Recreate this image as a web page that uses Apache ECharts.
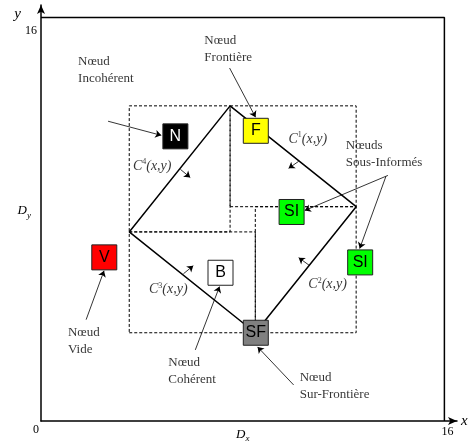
<!DOCTYPE html>
<html><head><meta charset="utf-8">
<script src="https://cdn.jsdelivr.net/npm/echarts@6/dist/echarts.min.js"></script>
<style>html,body{margin:0;padding:0;background:#fff}#c{width:472px;height:444px}</style>
</head><body><div id="c"></div>
<script>
// ---- data ----
const axisMax = 16.5;
const frame = [[0,16],[16,16],[16,0]];
const diamond = [[7.5,12.5],[12.5,8.5],[8.5,3.5],[3.5,7.5],[7.5,12.5]];
// bounding boxes of C4, C1, C2, C3 : [x0,y0,x1,y1]
const boxes = [[3.5,7.5,7.5,12.5],[7.5,8.5,12.5,12.5],[8.5,3.5,12.5,8.5],[3.5,3.5,8.5,7.5]];
const nodeNames = ['N','F','SI','SI','V','B','SF'];
const nodeX = [5.33, 8.52, 9.94, 12.66, 2.51, 7.12, 8.52];
const nodeY = [11.29, 11.51, 8.29, 6.29, 6.49, 5.88, 3.5];
const nodeFill = ['#000000','#ffff00','#00ff00','#00ff00','#ff0000','#ffffff','#808080'];
const nodeText = ['#ffffff','#000000','#000000','#000000','#000000','#000000','#000000'];
const noteTexts = ['Nœud\nIncohérent','Nœud\nFrontière','Nœuds\nSous-Informés','Nœud\nVide','Nœud\nCohérent','Nœud\nSur-Frontière'];
const noteX = [1.47, 6.48, 12.09, 1.07, 5.05, 10.26];
const noteY = [14.59, 15.43, 11.25, 3.86, 2.66, 2.07];
const curveIdx = ['4','1','2','3'];
const curveX = [4.41, 10.58, 11.37, 5.05];
const curveY = [10.10, 11.17, 5.41, 5.21];
const arrows = [
  [[2.66,11.89],[4.77,11.33]],
  [[7.48,14.0],[8.51,12.05]],
  [[13.76,9.74],[10.46,8.35]],
  [[13.68,9.70],[12.64,6.84]],
  [[1.79,4.02],[2.50,5.96]],
  [[6.12,2.82],[7.08,5.33]],
  [[10.02,1.43],[8.59,2.94]],
  [[5.53,9.98],[5.92,9.66]],
  [[10.22,10.30],[9.82,10.02]],
  [[10.66,6.16],[10.22,6.48]],
  [[5.65,5.84],[6.04,6.16]]
];
const xTickLabels = {0:'{z|0}', 8:'{i|D}{sub|x}', 16:'{n|16}'};
const yTickLabels = {0:'', 8:'{d|D}{dsub|y}{p|}', 16:'{t|16}'};

// ---- chart ----
const serif = 'Liberation Serif';
const chart = echarts.init(document.getElementById('c'));
const series = [];
series.push({type:'line', data: frame, symbol:'none', lineStyle:{color:'#000', width:1.5}, silent:true, z:2});
boxes.forEach(b => {
  series.push({type:'line', symbol:'none', silent:true, z:2,
    data:[[b[0],b[1]],[b[2],b[1]],[b[2],b[3]],[b[0],b[3]],[b[0],b[1]]],
    lineStyle:{color:'#000', width:1, type:[3,2]}});
});
series.push({type:'line', data: diamond, symbol:'none', lineStyle:{color:'#000', width:1.5}, silent:true, z:3});
series.push({type:'lines', coordinateSystem:'cartesian2d', symbol:['none','arrow'], symbolSize:6, z:4,
  lineStyle:{color:'#000', width:0.8, opacity:1}, data: arrows.map(a => ({coords:a}))});
series.push({type:'scatter', symbol:'rect', symbolSize:25, z:5,
  data: nodeNames.map((n,i) => ({value:[nodeX[i],nodeY[i]], name:n,
    itemStyle:{color:nodeFill[i], borderColor:'#222', borderWidth:1, opacity:1},
    label:{show:true, position:'inside', formatter:n, color:nodeText[i], fontFamily:'Liberation Sans', fontSize:16}}))});
series.push({type:'scatter', symbolSize:0, z:6,
  data: noteTexts.map((t,i) => ({value:[noteX[i],noteY[i]],
    label:{show:true, position:'inside', align:'left', verticalAlign:'top', formatter:t,
      fontFamily:serif, fontSize:13, lineHeight:17, color:'#000'}}))});
series.push({type:'scatter', symbolSize:0, z:6,
  data: curveIdx.map((c,i) => ({value:[curveX[i],curveY[i]],
    label:{show:true, position:'inside', formatter:'{c|C}{s|'+c+'}{c|(x,y)}',
      rich:{c:{fontFamily:serif, fontStyle:'italic', fontSize:14, color:'#000'},
            s:{fontFamily:serif, fontSize:8, color:'#000', padding:[0,0,8,0]}}}}))});

chart.setOption({
  animation:false,
  grid:{left:41, top:5, width:416, height:416, containLabel:false},
  xAxis:{type:'value', min:0, max:axisMax, interval:8, splitLine:{show:false},
    name:'x', nameLocation:'end', nameGap:4,
    nameTextStyle:{fontFamily:serif, fontStyle:'italic', fontSize:15, color:'#000', padding:[0,0,4,0]},
    axisLine:{lineStyle:{color:'#000', width:1.5}, symbol:['none','arrow'], symbolSize:[6,9]},
    axisTick:{show:false},
    axisLabel:{showMaxLabel:true, margin:3, formatter: v => xTickLabels[v] !== undefined ? xTickLabels[v] : '',
      rich:{z:{fontFamily:serif, fontSize:12, color:'#000', padding:[0,10,4,0]},
            n:{fontFamily:serif, fontSize:12, color:'#000', padding:[2,0,0,6]},
            i:{fontFamily:serif, fontStyle:'italic', fontSize:13, color:'#000', padding:[2,0,0,0]},
            sub:{fontFamily:serif, fontStyle:'italic', fontSize:9, color:'#000', padding:[10,0,0,0]}}}},
  yAxis:{type:'value', min:0, max:axisMax, interval:8, splitLine:{show:false},
    name:'y', nameLocation:'end', nameGap:-17,
    nameTextStyle:{fontFamily:serif, fontStyle:'italic', fontSize:15, color:'#000', align:'right', padding:[0,20,0,0]},
    axisLine:{lineStyle:{color:'#000', width:1.5}, symbol:['none','arrow'], symbolSize:[6,9]},
    axisTick:{show:false},
    axisLabel:{showMaxLabel:true, margin:4, formatter: v => yTickLabels[v] !== undefined ? yTickLabels[v] : '',
      rich:{t:{fontFamily:serif, fontSize:12, color:'#000', padding:[26,0,0,0]},
            p:{width:6},
            d:{fontFamily:serif, fontStyle:'italic', fontSize:13, color:'#000', padding:[0,0,18,0]},
            dsub:{fontFamily:serif, fontStyle:'italic', fontSize:9, color:'#000', padding:[0,0,8,0]},
            i:{fontFamily:serif, fontStyle:'italic', fontSize:13, color:'#000'},
            sub:{fontFamily:serif, fontStyle:'italic', fontSize:9, color:'#000', padding:[8,0,0,0]}}}},
  series: series
});
</script></body></html>
